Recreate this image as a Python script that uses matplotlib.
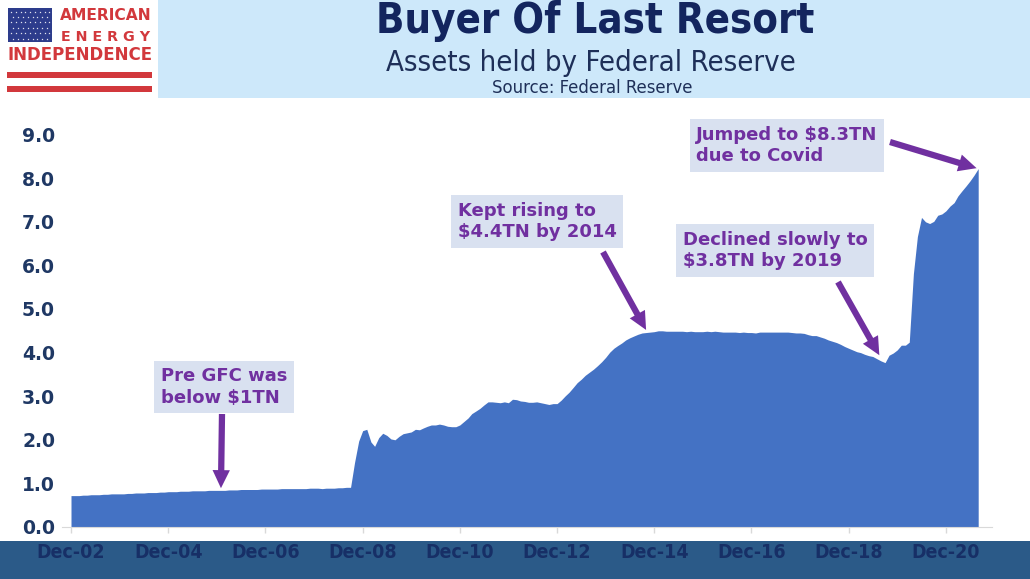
import numpy as np
import pandas as pd
import matplotlib
matplotlib.use("Agg")
import matplotlib.pyplot as plt
import matplotlib.dates as mdates
from matplotlib.patches import Rectangle

# Fed assets, $TN, first of each month (Dec 2002 .. Aug 2021)
dec2002 = [0.72]
y2003 = [0.72, 0.72, 0.73, 0.73, 0.74, 0.74, 0.74, 0.75, 0.75, 0.76, 0.76, 0.76]
y2004 = [0.76, 0.77, 0.77, 0.78, 0.78, 0.78, 0.79, 0.79, 0.79, 0.80, 0.80, 0.81]
y2005 = [0.81, 0.81, 0.82, 0.82, 0.82, 0.83, 0.83, 0.83, 0.83, 0.84, 0.84, 0.84]
y2006 = [0.84, 0.84, 0.85, 0.85, 0.85, 0.86, 0.86, 0.86, 0.86, 0.86, 0.87, 0.87]
y2007 = [0.87, 0.87, 0.87, 0.88, 0.88, 0.88, 0.88, 0.88, 0.88, 0.88, 0.89, 0.89]
y2008 = [0.89, 0.88, 0.89, 0.89, 0.89, 0.90, 0.90, 0.91, 0.91, 1.48, 1.97, 2.21]
y2009 = [2.24, 1.95, 1.85, 2.05, 2.15, 2.10, 2.02, 2.00, 2.08, 2.14, 2.16, 2.18]
y2010 = [2.24, 2.23, 2.27, 2.31, 2.34, 2.34, 2.36, 2.34, 2.31, 2.30, 2.30, 2.34]
y2011 = [2.42, 2.50, 2.60, 2.66, 2.72, 2.80, 2.87, 2.87, 2.86, 2.85, 2.87, 2.85]
y2012 = [2.93, 2.92, 2.89, 2.88, 2.86, 2.86, 2.87, 2.85, 2.83, 2.81, 2.83, 2.83]
y2013 = [2.91, 3.01, 3.09, 3.20, 3.31, 3.39, 3.48, 3.55, 3.62, 3.70, 3.79, 3.89]
y2014 = [4.01, 4.10, 4.16, 4.22, 4.29, 4.34, 4.38, 4.42, 4.45, 4.46, 4.47, 4.48]
y2015 = [4.50, 4.50, 4.49, 4.49, 4.49, 4.49, 4.49, 4.48, 4.49, 4.48, 4.48, 4.48]
y2016 = [4.49, 4.48, 4.49, 4.48, 4.47, 4.47, 4.47, 4.47, 4.46, 4.47, 4.46, 4.46]
y2017 = [4.45, 4.47, 4.47, 4.47, 4.47, 4.47, 4.47, 4.47, 4.47, 4.46, 4.45, 4.45]
y2018 = [4.44, 4.41, 4.39, 4.39, 4.36, 4.33, 4.29, 4.26, 4.23, 4.19, 4.14, 4.10]
y2019 = [4.06, 4.02, 4.00, 3.96, 3.93, 3.91, 3.86, 3.81, 3.77, 3.94, 3.99, 4.06]
y2020 = [4.17, 4.17, 4.24, 5.81, 6.66, 7.10, 7.00, 6.96, 7.01, 7.15, 7.18, 7.25]
y2021 = [7.36, 7.44, 7.59, 7.71, 7.82, 7.94, 8.07, 8.22]

assets = (dec2002 + y2003 + y2004 + y2005 + y2006 + y2007 + y2008 + y2009 + y2010
          + y2011 + y2012 + y2013 + y2014 + y2015 + y2016 + y2017 + y2018 + y2019
          + y2020 + y2021)
dates = pd.date_range("2002-12-01", periods=len(assets), freq="MS")

tick_years = [2002, 2004, 2006, 2008, 2010, 2012, 2014, 2016, 2018, 2020]
tick_labels = ["Dec-%02d" % (y % 100) for y in tick_years]

# annotation text and where the arrows point
notes = ["Pre GFC was\nbelow $1TN",
         "Kept rising to\n$4.4TN by 2014",
         "Declined slowly to\n$3.8TN by 2019",
         "Jumped to $8.3TN\ndue to Covid"]
arrow_dates = ["2006-01-01", "2014-10-01", "2019-07-20", "2021-07-20"]
arrow_values = [0.89, 4.52, 3.94, 8.23]

W, H = 1030, 579
fig = plt.figure(figsize=(W / 100, H / 100), dpi=100)

# background layer in pixel coordinates
bg = fig.add_axes([0, 0, 1, 1])
bg.set_xlim(0, W)
bg.set_ylim(H, 0)
bg.axis("off")
bg.set_zorder(0)
bg.add_patch(Rectangle((158, 0), W - 158, 98, color="#CDE8FA", lw=0))
bg.add_patch(Rectangle((0, 541), W, H - 541, color="#2B5A88", lw=0))

# logo
red = "#D2383C"
bg.add_patch(Rectangle((8, 8), 44, 34, color="#2D3C8C", lw=0))
for r, yy in enumerate(np.linspace(11.5, 38.5, 6)):
    xs = np.arange(11 + (r % 2) * 2.4, 51, 4.8)
    bg.scatter(xs, np.full(len(xs), yy), s=2.5, color="white", marker="*", lw=0)
bg.text(106, 16, "AMERICAN", ha="center", va="center", fontsize=11.2,
        fontweight="bold", color=red)
bg.text(106, 37, "E N E R G Y", ha="center", va="center", fontsize=10.3,
        fontweight="bold", color=red)
bg.text(80, 55, "INDEPENDENCE", ha="center", va="center", fontsize=12,
        fontweight="bold", color=red)
bg.add_patch(Rectangle((7, 72), 145, 5.5, color=red, lw=0))
bg.add_patch(Rectangle((7, 86), 145, 5.5, color=red, lw=0))

# titles
bg.text(595, 21, "Buyer Of Last Resort", ha="center", va="center", fontsize=30,
        fontweight="bold", color="#13255E", fontstretch="condensed")
bg.text(591, 63, "Assets held by Federal Reserve", ha="center", va="center",
        fontsize=21, color="#1E2F58", fontstretch="condensed")
bg.text(592, 88, "Source: Federal Reserve", ha="center", va="center",
        fontsize=13.2, color="#1E2F58", fontstretch="condensed")

# main chart, mapped so Dec-02 sits at x=71 px and 0.0 at y=527 px
ppd = 48.6 / 365.25
x0 = mdates.date2num(pd.Timestamp("2002-12-01"))
left_px, right_px = 62, 992
ymax = 9.4
ppu = 43.6
ax = fig.add_axes([left_px / W, (H - 527) / H, (right_px - left_px) / W, ymax * ppu / H])
ax.set_zorder(1)
ax.patch.set_alpha(0)
ax.fill_between(dates, assets, 0, color="#4472C4", lw=0)
ax.set_xlim(x0 - (71 - left_px) / ppd, x0 + (right_px - 71) / ppd)
ax.set_ylim(0, ymax)

ax.set_yticks(np.arange(0, 10, 1))
ax.set_yticklabels(["%.1f" % v for v in range(10)])
ax.set_xticks([pd.Timestamp("%d-12-01" % y) for y in tick_years])
ax.set_xticklabels(tick_labels)
for s in ["top", "right", "left"]:
    ax.spines[s].set_visible(False)
ax.spines["bottom"].set_color("#D9D9D9")
ax.tick_params(axis="y", length=0, pad=5, labelsize=13.5, labelcolor="#1F3864")
ax.tick_params(axis="x", length=4.5, width=1, color="#D9D9D9", pad=7,
               labelsize=14, labelcolor="#172F66")
for lab in ax.get_yticklabels():
    lab.set_fontweight("bold")
for lab in ax.get_xticklabels():
    lab.set_fontweight("bold")
    lab.set_fontstretch("condensed")

# callout boxes and arrows
purple = "#7030A0"
box_centers = [(224, 387), (537, 221.5), (775, 250.5), (787, 145.5)]
arrow_tails = [(222, 414), (603, 252), (838, 282), (890, 142)]
for txt, (cx, cy) in zip(notes, box_centers):
    ax.text(cx, cy, txt, transform=bg.transData, ha="center", va="center",
            multialignment="left", fontsize=13, fontweight="bold", color=purple,
            linespacing=1.25,
            bbox=dict(boxstyle="square,pad=0.35", fc="#D9E1F0", ec="none"))
for d, v, tail in zip(arrow_dates, arrow_values, arrow_tails):
    ax.annotate("", xy=(mdates.date2num(pd.Timestamp(d)), v), xycoords="data",
                xytext=tail, textcoords=bg.transData,
                arrowprops=dict(arrowstyle="simple,head_length=1.3,head_width=1.25,tail_width=0.45",
                                mutation_scale=10, fc=purple, ec="none", lw=0,
                                shrinkA=0, shrinkB=0))

fig.savefig("out.png", dpi=100)
